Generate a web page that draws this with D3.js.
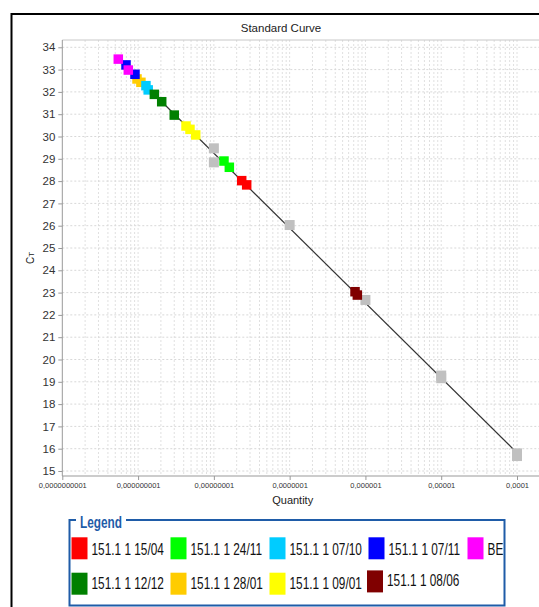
<!DOCTYPE html>
<html>
<head>
<meta charset="utf-8">
<script src="https://cdn.jsdelivr.net/npm/d3@7"></script>
<style>
  html, body { margin: 0; padding: 0; background: #fff; }
  svg { display: block; font-family: "Liberation Sans", Arial, sans-serif; }
</style>
</head>
<body>
<svg id="chart" width="539" height="607"></svg>
<script>
// ---------------- data ----------------
const title = "Standard Curve";
const xLabel = "Quantity";
const yTicks = d3.range(15, 35);
const xTickValues = [1e-10, 1e-9, 1e-8, 1e-7, 1e-6, 1e-5, 1e-4];
const xTickLabels = ["0,0000000001", "0,000000001", "0,00000001", "0,0000001", "0,000001", "0,00001", "0,0001"];

const stdQty = [1e-8, 1e-8, 1e-7, 1e-6, 1e-5, 1e-5, 1e-4, 1e-4];
const stdCt  = [29.47, 28.84, 26.03, 22.67, 19.28, 19.16, 15.79, 15.67];

const seriesNames  = ["151.1 1 15/04", "151.1 1 24/11", "151.1 1 07/10", "151.1 1 07/11", "BE",
                      "151.1 1 12/12", "151.1 1 28/01", "151.1 1 09/01", "151.1 1 08/06"];
const seriesColors = ["#ff0000", "#00ff00", "#00ccff", "#0000ff", "#ff00ff",
                      "#008000", "#ffcc00", "#ffff00", "#800000"];
const seriesQty = [
  [2.33e-8, 2.71e-8],
  [1.36e-8, 1.60e-8],
  [1.27e-9, 1.36e-9],
  [6.93e-10, 9.1e-10],
  [5.48e-10, 7.43e-10],
  [1.64e-9, 2.05e-9, 3.0e-9],
  [9.68e-10, 1.09e-9],
  [4.29e-9, 4.84e-9, 5.76e-9],
  [7.29e-7, 7.82e-7]
];
const seriesCt = [
  [28.02, 27.83],
  [28.90, 28.62],
  [32.28, 32.09],
  [33.21, 32.79],
  [33.47, 32.98],
  [31.89, 31.56, 30.96],
  [32.58, 32.43],
  [30.47, 30.32, 30.07],
  [23.04, 22.89]
];
// draw order of colored series (index into the arrays above)
const drawOrder = [0, 1, 6, 2, 3, 4, 5, 7, 8];

// ---------------- layout ----------------
const svg = d3.select("#chart");
const plotLeft = 62.3, plotTop = 40, plotBottom = 476, plotRight = 539;

const x = d3.scaleLog().domain([1e-10, 1e-4]).range([62.3, 517]);
const y = d3.scaleLinear().domain([15, 34]).range([471, 47.3]);

// outer frame
svg.append("rect").attr("x", 11.5).attr("y", 14).attr("width", 600).attr("height", 700)
  .attr("fill", "none").attr("stroke", "#000").attr("stroke-width", 2);

// title
svg.append("text").attr("x", 281).attr("y", 31.5).attr("text-anchor", "middle")
  .attr("font-size", 11.5).attr("fill", "#222").text(title);

// grid
const grid = svg.append("g");
const minorTicks = [];
for (let e = -10; e <= -3; e++) {
  for (let m = 1; m <= 9; m++) minorTicks.push(m * Math.pow(10, e));
}
minorTicks.filter(v => x(v) > plotLeft + 0.5 && x(v) <= plotRight).forEach(v => {
  grid.append("line").attr("x1", x(v)).attr("x2", x(v)).attr("y1", plotTop).attr("y2", plotBottom)
    .attr("stroke", "#e0e0e0").attr("stroke-width", 1).attr("stroke-dasharray", "2,2");
});
yTicks.forEach(v => {
  grid.append("line").attr("x1", plotLeft).attr("x2", plotRight).attr("y1", y(v)).attr("y2", y(v))
    .attr("stroke", "#d8d8d8").attr("stroke-width", 1).attr("stroke-dasharray", "2,2");
});
// plot top border
svg.append("line").attr("x1", plotLeft).attr("x2", plotRight).attr("y1", plotTop).attr("y2", plotTop)
  .attr("stroke", "#c8c8c8");

// axes
const yAxis = d3.axisLeft(y).tickValues(yTicks).tickSize(4).tickPadding(3).tickFormat(d3.format("d"));
const yg = svg.append("g").attr("transform", `translate(${plotLeft},0)`).call(yAxis);
yg.select(".domain").attr("d", `M0,${plotTop}V${plotBottom}`).attr("stroke", "#999");
yg.selectAll(".tick line").attr("stroke", "#999");
yg.selectAll(".tick text").attr("font-size", 11.5).attr("fill", "#333")
  .attr("font-family", "'Liberation Sans', Arial, sans-serif");

const xAxis = d3.axisBottom(x).tickValues(xTickValues).tickSize(4).tickPadding(3)
  .tickFormat((d, i) => xTickLabels[i]);
const xg = svg.append("g").attr("transform", `translate(0,${plotBottom})`).call(xAxis);
xg.select(".domain").attr("d", `M${plotLeft},0H${plotRight}`).attr("stroke", "#999");
xg.selectAll(".tick line").attr("stroke", "#999");
xg.selectAll(".tick text").attr("font-size", 7.5).attr("fill", "#333")
  .attr("font-family", "'Liberation Sans', Arial, sans-serif");

// axis labels
svg.append("text").attr("x", 292.7).attr("y", 504).attr("text-anchor", "middle")
  .attr("font-size", 11).attr("fill", "#222").text(xLabel);
const yl = svg.append("text").attr("transform", "translate(34,258) rotate(-90)")
  .attr("text-anchor", "middle").attr("font-size", 10).attr("fill", "#222");
yl.append("tspan").text("C");
yl.append("tspan").attr("font-size", 8).text("T");

// regression line from standards
const lx = stdQty.map(q => Math.log10(q));
const mx = d3.mean(lx), my = d3.mean(stdCt);
const slope = d3.sum(lx, (v, i) => (v - mx) * (stdCt[i] - my)) / d3.sum(lx, v => (v - mx) * (v - mx));
const intercept = my - slope * mx;
const allQty = stdQty.concat(...seriesQty);
const qMin = d3.min(allQty), qMax = d3.max(allQty);
const lineData = [qMin, qMax].map(q => ({ q, ct: intercept + slope * Math.log10(q) }));
svg.append("path").datum(lineData)
  .attr("d", d3.line().x(d => x(d.q)).y(d => y(d.ct)))
  .attr("stroke", "#333").attr("stroke-width", 1.2).attr("fill", "none");

// markers
const gs = 10, cs = 9.5;
svg.append("g").selectAll("rect").data(stdQty.map((q, i) => ({ q, ct: stdCt[i] })))
  .join("rect")
  .attr("x", d => x(d.q) - gs / 2).attr("y", d => y(d.ct) - gs / 2)
  .attr("width", gs).attr("height", gs).attr("fill", "#c0c0c0");

const mg = svg.append("g");
drawOrder.forEach(si => {
  mg.selectAll(null).data(seriesQty[si].map((q, j) => ({ q, ct: seriesCt[si][j] })))
    .join("rect")
    .attr("x", d => x(d.q) - cs / 2).attr("y", d => y(d.ct) - cs / 2)
    .attr("width", cs).attr("height", cs).attr("fill", seriesColors[si]);
});

// legend
const lg = svg.append("g");
const legBlue = "#1f5ca8";
lg.append("path")
  .attr("d", "M76,520H69.5V605.5H504.5V520H126")
  .attr("fill", "none").attr("stroke", legBlue).attr("stroke-width", 2);
lg.append("text").attr("transform", "translate(80,527.5) scale(0.74,1)")
  .attr("font-size", 16).attr("font-weight", "bold").attr("fill", legBlue).text("Legend");

const rowTop = [537.3, 572.7], rowBase = [555, 588.5];
seriesNames.forEach((name, i) => {
  const row = i < 5 ? 0 : 1;
  const col = i < 5 ? i : i - 5;
  const lift = (i === 8) ? -2.3 : 0;
  const sx = 71.5 + col * 99 - (col === 3 && row === 1 ? 1.5 : 0);
  lg.append("rect").attr("x", sx).attr("y", rowTop[row] + lift)
    .attr("width", 16).attr("height", 22).attr("fill", seriesColors[i]);
  lg.append("text").attr("transform", `translate(${sx + 20},${rowBase[row] + lift}) scale(0.74,1)`)
    .attr("font-size", 16).attr("fill", "#111").text(name);
});
</script>
</body>
</html>
